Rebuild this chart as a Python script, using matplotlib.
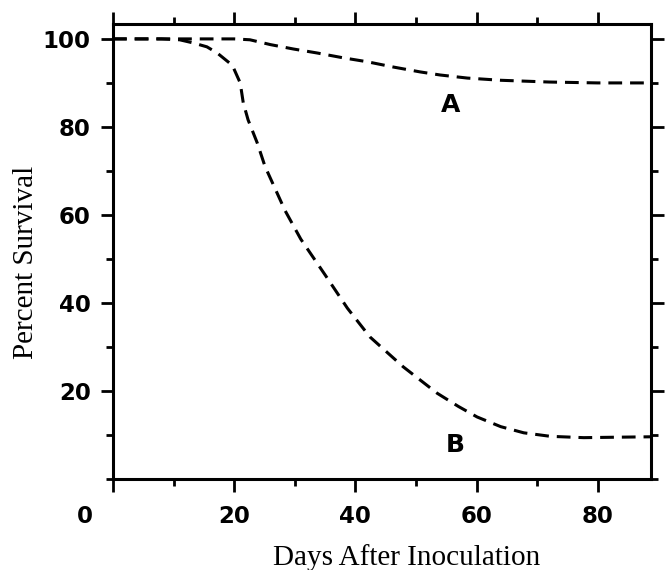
import matplotlib
matplotlib.use("Agg")
import matplotlib.pyplot as plt
from matplotlib.transforms import ScaledTranslation

# ------------------------------------------------------------
# data
# ------------------------------------------------------------
days_a = [0, 10, 15, 20, 22.6, 26, 29.8, 33.7, 38, 42, 46.3, 50.7, 54, 58.5, 64, 72, 80, 89]
surv_a = [100, 100, 100, 100, 99.8, 98.7, 97.7, 96.8, 95.7, 94.8, 93.6, 92.5, 91.8, 91.1, 90.6, 90.2, 90.0, 90.0]

days_b = [0, 8, 11, 13.2, 15.5, 17.2, 19.7, 21, 21.5, 22.3, 23.8, 25.1, 28.4, 31, 35,
          38.7, 42.4, 47.9, 53.5, 57, 60.1, 64, 67.8, 72.2, 77.7, 83, 89]
surv_b = [100, 100, 99.8, 99.1, 98.2, 96.8, 94, 90, 85.5, 81.6, 76.4, 71, 61, 54.5, 46.4,
          38.8, 32.3, 25.5, 19.5, 16.5, 14.1, 11.9, 10.5, 9.7, 9.4, 9.5, 9.6]

x_ticks = [0, 20, 40, 60, 80]
x_tick_labels = ["0", "20", "40", "60", "80"]
y_ticks = [20, 40, 60, 80, 100]
y_tick_labels = ["20", "40", "60", "80", "100"]

labels = ["A", "B"]
label_x = [55.7, 56.5]
label_y = [85.0, 7.7]

# ------------------------------------------------------------
# plot
# ------------------------------------------------------------
fig = plt.figure(figsize=(6.67, 5.70), dpi=100)
ax = fig.add_axes([0.1694, 0.1596, 0.8066, 0.7984])

for d, s in [(days_a, surv_a), (days_b, surv_b)]:
    ax.plot(d, s, color="black", linewidth=2.2, dashes=(4.5, 2.6),
            solid_capstyle="butt", dash_capstyle="butt")

for t, x, y in zip(labels, label_x, label_y):
    ax.text(x, y, t, ha="center", va="center", fontsize=18,
            fontweight="bold", family="DejaVu Sans")

ax.set_xlim(0, 88.8)
ax.set_ylim(0, 103.4)

for sp in ax.spines.values():
    sp.set_linewidth(2.2)

ax.set_xticks(x_ticks)
ax.set_xticklabels(x_tick_labels)
ax.set_xticks(range(10, 90, 20), minor=True)
ax.set_yticks(y_ticks)
ax.set_yticklabels(y_tick_labels)
ax.set_yticks(range(0, 101, 10), minor=True)

ax.tick_params(axis="both", which="major", direction="out", length=9, width=2.0,
               top=True, right=True, labelsize=16.5)
ax.tick_params(axis="both", which="minor", direction="out", length=5, width=2.0,
               top=True, right=True)
ax.tick_params(axis="y", which="major", pad=7)
ax.tick_params(axis="x", which="major", pad=10)

for lab in ax.get_xticklabels() + ax.get_yticklabels():
    lab.set_fontweight("bold")
    lab.set_family("DejaVu Sans")

# the "0" sits off to the left of the corner
zero = ax.get_xticklabels()[0]
zero.set_transform(zero.get_transform() + ScaledTranslation(-0.28, 0, fig.dpi_scale_trans))

ax.set_xlabel("Days After Inoculation", family="Liberation Serif", fontsize=21, labelpad=11)
ax.set_ylabel("Percent Survival", family="Liberation Serif", fontsize=21, labelpad=3)
ax.xaxis.label.set_x(0.546)
ax.yaxis.label.set_y(0.477)

fig.savefig("out.png", dpi=100)
